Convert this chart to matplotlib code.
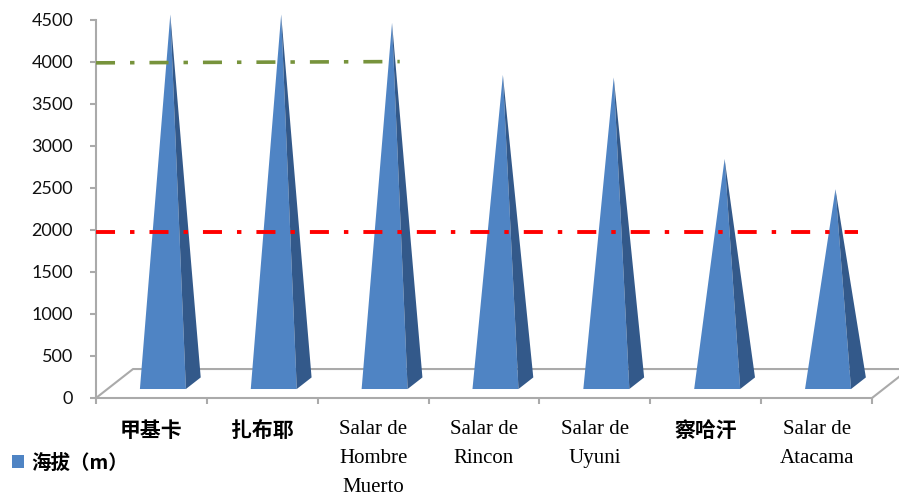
import matplotlib
matplotlib.use("Agg")
import matplotlib.pyplot as plt
from matplotlib.patches import Polygon, Patch
import numpy as np

plt.rcParams["lines.scale_dashes"] = False

# ---- data -------------------------------------------------------------
categories = ["甲基卡", "扎布耶", "Salar de\nHombre\nMuerto", "Salar de\nRincon",
              "Salar de\nUyuni", "察哈汗", "Salar de\nAtacama"]
altitude = [4390, 4390, 4290, 3670, 3640, 2670, 2310]
series_name = "海拔（m）"
y_ticks = [0, 500, 1000, 1500, 2000, 2500, 3000, 3500, 4000, 4500]
green_level = [3990, 4005]
red_level = 1980

# ---- styling ----------------------------------------------------------
FRONT = "#4F84C4"
SIDE = "#33598A"
GRAY = "#AAAAAA"
DASH = (0, (13.7, 10.8, 3.2, 10.8))

# oblique projection of the depth axis (in data units per full depth)
DX, DY = 0.334, 345.0


def proj(x, depth, y):
    return (x + depth * DX, y + depth * DY)


fig = plt.figure(figsize=(8.99, 4.97), dpi=100)
ax = fig.add_axes([96 / 899, 1 - 398 / 497, 776 / 899, 378 / 497])
ax.set_xlim(-0.5, len(categories) - 0.5)
ax.set_ylim(0, 4500)

# floor of the 3-D box
x0, x1 = -0.5, len(categories) - 0.5
floor = [proj(x0, 0, 0), proj(x0, 1, 0), proj(x1, 1, 0), proj(x1, 0, 0)]
fx, fy = zip(*floor)
ax.plot(fx, fy, color=GRAY, lw=1.5, clip_on=False, zorder=1,
        solid_capstyle="butt")

# pyramids
hw, d0, d1 = 0.2075, 0.31, 0.71
dc = (d0 + d1) / 2
for i, v in enumerate(altitude):
    fl = proj(i - hw, d0, 0)
    fr = proj(i + hw, d0, 0)
    br = proj(i + hw, d1, 0)
    apex = proj(i, dc, v)
    ax.add_patch(Polygon([fl, fr, apex], closed=True, facecolor=FRONT,
                         edgecolor="none", clip_on=False, zorder=3))
    ax.add_patch(Polygon([fr, br, apex], closed=True, facecolor=SIDE,
                         edgecolor="none", clip_on=False, zorder=3))

# reference levels
ax.plot([-0.5, 2.24], green_level, color="#77933C", lw=2.6, ls=DASH,
        clip_on=False, zorder=5)
ax.plot([-0.5, 6.37], [red_level, red_level], color="#FF0000", lw=2.8, ls=DASH,
        clip_on=False, zorder=5)

# axes
for s in ("top", "right"):
    ax.spines[s].set_visible(False)
for s in ("left", "bottom"):
    ax.spines[s].set_color(GRAY)
    ax.spines[s].set_linewidth(1.5)
    ax.spines[s].set_zorder(2)

ax.set_yticks(y_ticks)
ax.set_yticklabels([str(t) for t in y_ticks], fontfamily="Lato", fontsize=13)
ax.tick_params(axis="y", length=4.5, width=1.5, color=GRAY, pad=12,
               labelcolor="#111111")

ax.set_xticks(range(len(categories)))
ax.set_xticklabels(categories, linespacing=1.72)
ax.set_xticks(np.arange(-0.5, len(categories), 1), minor=True)
ax.tick_params(axis="x", which="major", length=0, pad=16)
ax.tick_params(axis="x", which="minor", length=4.5, width=1.5, color=GRAY)
for lbl in ax.get_xticklabels():
    if lbl.get_text().isascii():
        lbl.set_fontfamily("Liberation Serif")
        lbl.set_fontsize(15)
    else:
        lbl.set_fontfamily("Noto Sans CJK SC")
        lbl.set_fontweight("bold")
        lbl.set_fontsize(15)

fig.legend(handles=[Patch(facecolor=FRONT, edgecolor="none")],
           labels=[series_name], loc="center left",
           bbox_to_anchor=(12 / 899, 1 - 463 / 497), frameon=False,
           borderpad=0, borderaxespad=0, handlelength=0.62, handleheight=0.62,
           handletextpad=0.35,
           prop={"family": "Noto Sans CJK SC", "weight": "bold", "size": 14})

fig.savefig("out.png", dpi=100)
